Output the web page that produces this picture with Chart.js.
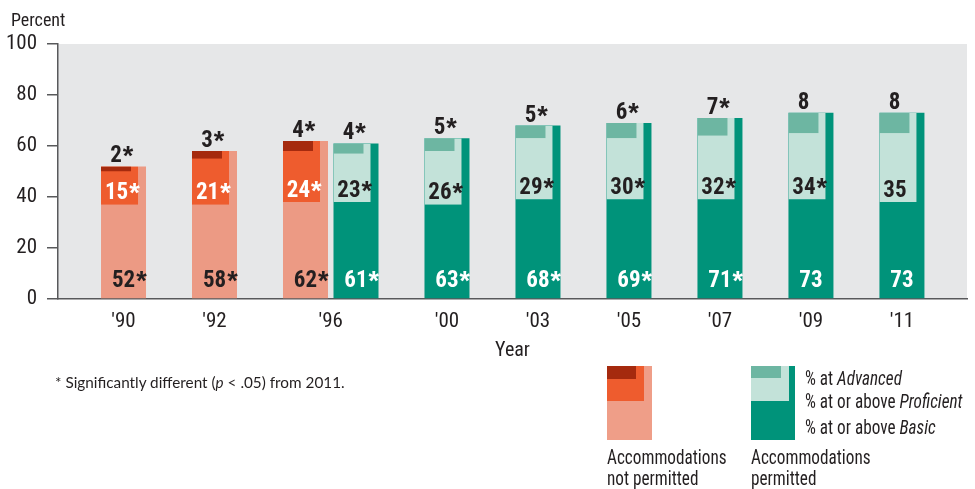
<!DOCTYPE html>
<html>
<head>
<meta charset="utf-8">
<script src="https://cdn.jsdelivr.net/npm/chart.js@4.4.1/dist/chart.umd.min.js"></script>
<style>
html,body{margin:0;padding:0;background:#fff;}
#wrap{position:relative;width:975px;height:489px;overflow:hidden;background:#fff;}
#c{position:absolute;left:0;top:0;}
.t{position:absolute;white-space:nowrap;color:#231F20;font-family:'Roboto Condensed','Liberation Sans Narrow','DejaVu Sans Condensed',sans-serif;transform-origin:0 0;}
.lg{font-size:20px;line-height:20px;transform:scaleX(0.86);}
.sw{position:absolute;}
</style>
</head>
<body>
<div id="wrap">
<canvas id="c" width="975" height="489"></canvas>
<div class="t" style="left:11px;top:11px;font-size:18px;line-height:18px;">Percent</div>
<div class="t" style="left:55px;top:374px;font-family:Lato,'Open Sans',sans-serif;font-size:15.3px;line-height:16px;">* Significantly different (<i>p</i> &lt; .05) from 2011.</div>

<div class="sw" style="left:607px;top:366px;width:45px;height:74px;background:#EF9E88;"></div>
<div class="sw" style="left:607px;top:366px;width:37px;height:35px;background:#EE5C2E;"></div>
<div class="sw" style="left:607px;top:366px;width:29px;height:13px;background:#A52A0E;"></div>

<div class="sw" style="left:751px;top:366px;width:44px;height:74px;background:#00937A;"></div>
<div class="sw" style="left:751px;top:366px;width:38px;height:35px;background:#C3E2D9;"></div>
<div class="sw" style="left:751px;top:366px;width:30px;height:12px;background:#6DB6A2;"></div>

<div class="t lg" style="left:805px;top:368px;">% at <i>Advanced</i></div>
<div class="t lg" style="left:805px;top:391px;">% at or above <i>Proficient</i></div>
<div class="t lg" style="left:805px;top:417px;">% at or above <i>Basic</i></div>

<div class="t lg" style="left:607px;top:447px;line-height:21px;">Accommodations<br>not permitted</div>
<div class="t lg" style="left:751px;top:447px;line-height:21px;">Accommodations<br>permitted</div>
</div>

<script>
// ---- data ----
const years = ["'90", "'92", "'96", "'00", "'03", "'05", "'07", "'09", "'11"];

// Accommodations not permitted
const notPermittedYears = ["'90", "'92", "'96"];
const notPermittedBasic = [52, 58, 62];
const notPermittedProficient = [15, 21, 24];
const notPermittedAdvanced = [2, 3, 4];
const notPermittedBasicSig = [true, true, true];
const notPermittedProficientSig = [true, true, true];
const notPermittedAdvancedSig = [true, true, true];

// Accommodations permitted
const permittedYears = ["'96", "'00", "'03", "'05", "'07", "'09", "'11"];
const permittedBasic = [61, 63, 68, 69, 71, 73, 73];
const permittedProficient = [23, 26, 29, 30, 32, 34, 35];
const permittedAdvanced = [4, 5, 5, 6, 7, 8, 8];
const permittedBasicSig = [true, true, true, true, true, false, false];
const permittedProficientSig = [true, true, true, true, true, true, false];
const permittedAdvancedSig = [true, true, true, true, true, false, false];

const yTickStep = 20;
const yMax = 100;

// ---- layout / style constants ----
const SLOT_MIN = -0.72, SLOT_MAX = 9.27, PERMITTED_SHIFT = 0.555;
const NARROW = "'Roboto Condensed','Liberation Sans Narrow','DejaVu Sans Condensed',sans-serif";
const INK = '#231F20';
const AXIS = '#58595B';
const C = {
  npBasic: '#EC9A84', npProf: '#EE5C2E', npAdv: '#A52A0E',
  pBasic: '#00937A', pProf: '#C3E2D9', pAdv: '#6DB6A2'
};
const BAR_W = 45;

function labelsOf(vals, sig) { return vals.map((v, i) => ({ num: String(v), star: sig[i] })); }
function basicData(yrs, basic) { return yrs.map((y, i) => ({ x: years.indexOf(y), y: [0, basic[i]] })); }
function hangData(yrs, basic, level) { return yrs.map((y, i) => ({ x: years.indexOf(y), y: [basic[i] - level[i], basic[i]] })); }

function ds(label, data, axis, color, order, rightCut, kind, labs, labColor) {
  return {
    label, data, xAxisID: axis, backgroundColor: color, order,
    barThickness: BAR_W, grouped: false, inflateAmount: 0,
    borderSkipped: false, borderColor: 'rgba(0,0,0,0)',
    borderWidth: { top: 0, right: rightCut, bottom: 0, left: 0 },
    kind, barLabels: labs, labelColor: labColor
  };
}

const datasets = [
  ds('Not permitted – Basic', basicData(notPermittedYears, notPermittedBasic), 'x', C.npBasic, 2, 0, 'basic', labelsOf(notPermittedBasic, notPermittedBasicSig), INK),
  ds('Not permitted – Proficient', hangData(notPermittedYears, notPermittedBasic, notPermittedProficient), 'x', C.npProf, 1, 8, 'prof', labelsOf(notPermittedProficient, notPermittedProficientSig), '#FFFFFF'),
  ds('Not permitted – Advanced', hangData(notPermittedYears, notPermittedBasic, notPermittedAdvanced), 'x', C.npAdv, 0, 15, 'adv', labelsOf(notPermittedAdvanced, notPermittedAdvancedSig), INK),
  ds('Permitted – Basic', basicData(permittedYears, permittedBasic), 'x2', C.pBasic, 2, 0, 'basic', labelsOf(permittedBasic, permittedBasicSig), '#FFFFFF'),
  ds('Permitted – Proficient', hangData(permittedYears, permittedBasic, permittedProficient), 'x2', C.pProf, 1, 8, 'prof', labelsOf(permittedProficient, permittedProficientSig), INK),
  ds('Permitted – Advanced', hangData(permittedYears, permittedBasic, permittedAdvanced), 'x2', C.pAdv, 0, 15, 'adv', labelsOf(permittedAdvanced, permittedAdvancedSig), INK)
];

// tick positions on the main x axis for each year label
const tickValues = years.map((y, i) => {
  const a = notPermittedYears.includes(y), b = permittedYears.includes(y);
  return a && b ? i + PERMITTED_SHIFT / 2 : (b ? i + PERMITTED_SHIFT : i);
});

const plotBg = {
  id: 'plotBg',
  beforeDraw(chart) {
    const { ctx, chartArea: a } = chart;
    ctx.save();
    ctx.fillStyle = '#E6E7E8';
    ctx.fillRect(a.left, a.top, a.right - a.left, a.bottom - a.top);
    ctx.restore();
  }
};

const barLabels = {
  id: 'barLabels',
  afterDatasetsDraw(chart) {
    const ctx = chart.ctx;
    chart.data.datasets.forEach((d, di) => {
      const meta = chart.getDatasetMeta(di);
      meta.data.forEach((el, j) => {
        const p = el.getProps(['x', 'y', 'base', 'width'], true);
        const top = Math.min(p.y, p.base), bottom = Math.max(p.y, p.base);
        const left = p.x - p.width / 2;
        const lab = d.barLabels[j];
        let cx, by;
        if (d.kind === 'basic') { cx = p.x; by = bottom - 11; }
        else if (d.kind === 'prof') { cx = left + 15.5; by = bottom - 5.5; }
        else { cx = left + 15; by = top - 4; }
        ctx.save();
        ctx.fillStyle = d.labelColor;
        ctx.textBaseline = 'alphabetic';
        ctx.textAlign = 'left';
        ctx.font = 'bold 23px ' + NARROW;
        const w = ctx.measureText(lab.num).width;
        ctx.fillText(lab.num, cx - w / 2, by);
        if (lab.star) {
          ctx.font = "bold 27px 'Liberation Sans',Arial,sans-serif";
          ctx.fillText('*', cx + w / 2 + 1, by + 3);
        }
        ctx.restore();
      });
    });
  }
};

new Chart(document.getElementById('c'), {
  type: 'bar',
  data: { datasets },
  plugins: [plotBg, barLabels],
  options: {
    responsive: false,
    devicePixelRatio: 1,
    animation: false,
    events: [],
    layout: { padding: { top: 44, right: 8, bottom: 120, left: 0 } },
    plugins: { legend: { display: false }, tooltip: { enabled: false }, title: { display: false } },
    scales: {
      x: {
        type: 'linear', position: 'bottom', min: SLOT_MIN, max: SLOT_MAX, offset: false,
        grid: { display: false, drawTicks: false },
        border: { display: true, color: AXIS, width: 1.5 },
        afterBuildTicks(scale) { scale.ticks = tickValues.map(v => ({ value: v })); },
        afterFit(scale) { scale.height = 70; scale.paddingLeft = 0; scale.paddingRight = 0; },
        ticks: {
          autoSkip: false, maxRotation: 0, minRotation: 0, padding: 10,
          color: INK, font: { family: NARROW, size: 21 },
          callback: (v, i) => years[i]
        },
        title: {
          display: true, text: 'Year', color: INK,
          font: { family: NARROW, size: 20 }, padding: { top: 0, bottom: 6 }
        }
      },
      x2: {
        type: 'linear', display: false, position: 'bottom', offset: false,
        min: SLOT_MIN - PERMITTED_SHIFT, max: SLOT_MAX - PERMITTED_SHIFT
      },
      y: {
        type: 'linear', min: 0, max: yMax,
        grid: { display: true, drawOnChartArea: false, drawTicks: true, tickLength: 11, color: AXIS, lineWidth: 1.5 },
        border: { display: true, color: AXIS, width: 1.5 },
        afterFit(scale) { scale.width = 58; scale.paddingTop = 0; scale.paddingBottom = 0; },
        ticks: { stepSize: yTickStep, padding: 10, color: INK, font: { family: NARROW, size: 21 } }
      }
    }
  }
});
</script>
</body>
</html>
